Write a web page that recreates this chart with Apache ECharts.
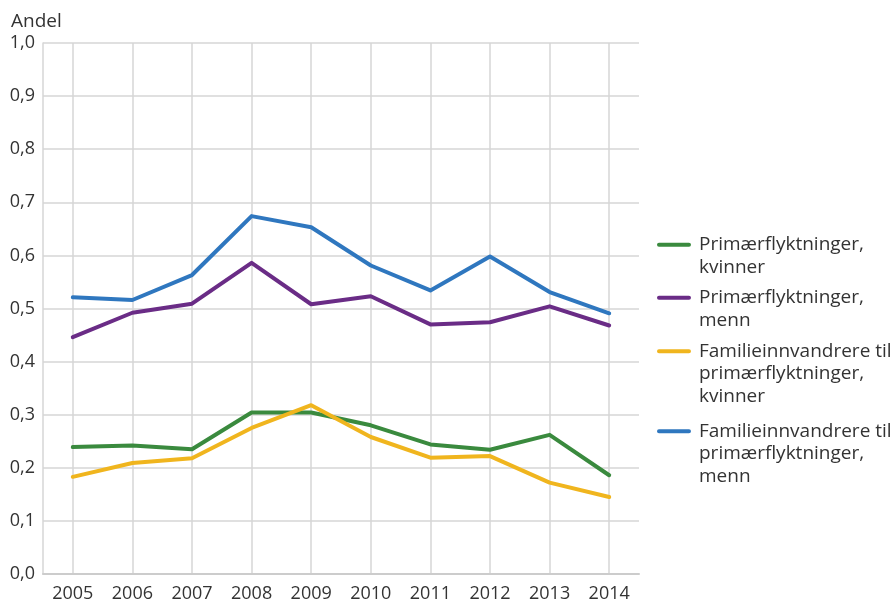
<!DOCTYPE html>
<html>
<head>
<meta charset="utf-8">
<script src="https://cdn.jsdelivr.net/npm/echarts@6/dist/echarts.min.js"></script>
<style>
html,body{margin:0;padding:0;background:#fff;}
#chart{width:894px;height:603px;}
</style>
</head>
<body>
<div id="chart"></div>
<script>
const years = ['2005','2006','2007','2008','2009','2010','2011','2012','2013','2014'];
const yTicks = [0,0.1,0.2,0.3,0.4,0.5,0.6,0.7,0.8,0.9,1.0];

const primKvinner = [0.239,0.242,0.235,0.304,0.304,0.280,0.244,0.234,0.262,0.186];
const primMenn    = [0.446,0.492,0.509,0.586,0.508,0.523,0.470,0.474,0.504,0.468];
const famKvinner  = [0.183,0.209,0.218,0.275,0.318,0.258,0.219,0.222,0.172,0.145];
const famMenn     = [0.521,0.516,0.563,0.674,0.653,0.581,0.534,0.598,0.531,0.491];

const seriesNames = [
  'Primærflyktninger, kvinner',
  'Primærflyktninger, menn',
  'Familieinnvandrere til primærflyktninger, kvinner',
  'Familieinnvandrere til primærflyktninger, menn'
];
const legendLabels = [
  'Primærflyktninger,\nkvinner',
  'Primærflyktninger,\nmenn',
  'Familieinnvandrere til\nprimærflyktninger,\nkvinner',
  'Familieinnvandrere til\nprimærflyktninger,\nmenn'
];
const legendLines = [2,2,3,3];
const legendTops = [233.5,286.5,340,420];
const colors = ['#3a8a3e','#6a2c86','#f0b51e','#2f77bf'];
const values = [primKvinner, primMenn, famKvinner, famMenn];

const FONT = '"Open Sans", "Noto Sans", sans-serif';
const LH = 22.5;

function iconPath(h){
  const c = LH/2;
  return 'path://M0,0L0.01,0M0,' + h + 'L0.01,' + h + 'M37,0L37.01,0' +
    'M2,' + (c-2) + 'L32,' + (c-2) + 'A2,2 0 0 1 32,' + (c+2) + 'L2,' + (c+2) + 'A2,2 0 0 1 2,' + (c-2) + 'Z';
}

const legends = seriesNames.map((n,i)=>{
  const h = legendLines[i]*LH;
  return {
    data:[{name:n, icon: iconPath(h)}],
    left:657, top:legendTops[i], orient:'vertical', padding:0,
    itemWidth:37, itemHeight:h, symbolKeepAspect:false,
    selectedMode:false,
    formatter: ()=>legendLabels[i],
    textStyle:{fontFamily:FONT,fontSize:19,color:'#333',lineHeight:LH}
  };
});

const chart = echarts.init(document.getElementById('chart'), null, {renderer:'canvas'});
chart.setOption({
  animation:false,
  backgroundColor:'#fff',
  color: colors,
  title:{text:'Andel', left:11, top:12, padding:0, textStyle:{fontFamily:FONT,fontSize:19,fontWeight:'normal',color:'#333'}},
  legend: legends,
  grid:{left:43, top:43, width:596, bottom:28, containLabel:false},
  xAxis:{
    type:'category', data:years, boundaryGap:true,
    axisLine:{show:true, lineStyle:{color:'#cccccc', width:2}},
    axisTick:{show:false, alignWithLabel:true},
    splitLine:{show:true, alignWithLabel:true, lineStyle:{color:'#d6d6d6', width:1.5}},
    axisLabel:{fontFamily:FONT, fontSize:18, color:'#333', margin:11}
  },
  yAxis:{
    type:'value', min:0, max:1, interval:0.1,
    axisLine:{show:true, lineStyle:{color:'#d6d6d6', width:1.5}},
    axisTick:{show:false},
    splitLine:{show:true, lineStyle:{color:'#d6d6d6', width:1.5}},
    axisLabel:{fontFamily:FONT, fontSize:18, color:'#333', margin:8, padding:[8,0,0,0],
      formatter:(v)=>{ const t = yTicks.find(x=>Math.abs(x-v)<1e-6); return (t===undefined?v:t).toFixed(1).replace('.',','); }}
  },
  series: seriesNames.map((n,i)=>({
    name:n, type:'line', data:values[i], symbol:'none', smooth:false,
    lineStyle:{width:4, color:colors[i], cap:'round', join:'round'},
    itemStyle:{color:colors[i]}
  }))
});
</script>
</body>
</html>
